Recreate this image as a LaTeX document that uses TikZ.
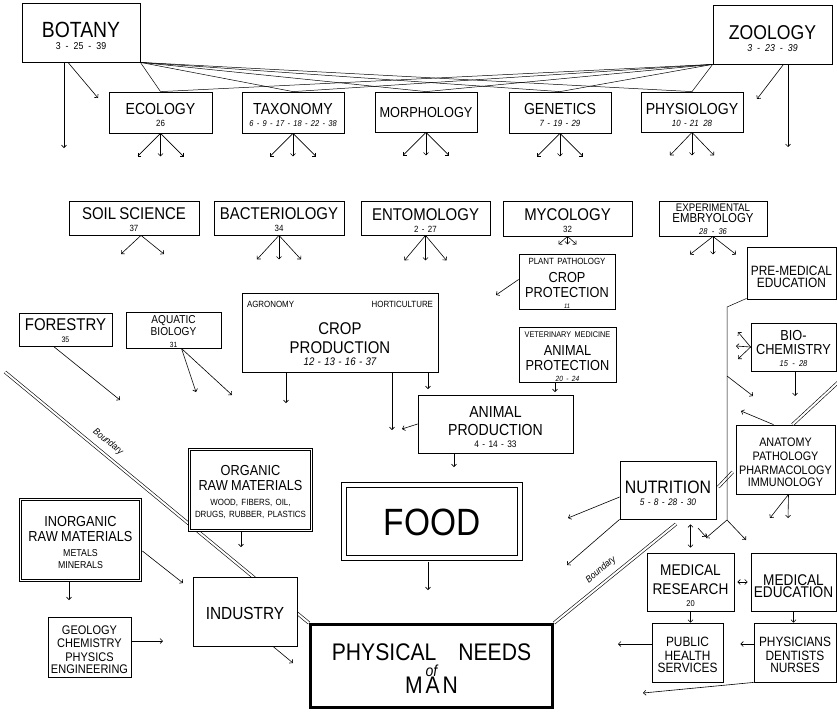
\documentclass[tikz,border=0pt]{standalone}
\usepackage{fontspec}
\setmainfont{Liberation Sans}[FakeStretch=0.88]
\usetikzlibrary{arrows.meta}
\usetikzlibrary{backgrounds}
\setlength{\parindent}{0pt}
\newcommand{\sz}[2]{\par\fontsize{#1}{#2}\selectfont}

\begin{document}
\begin{tikzpicture}[x = 1pt, y = -1pt,
        >={Straight Barb[length=2.5pt, width=5pt]},
        box/.style = {draw, line width = 0.8pt, fill = white, align = center, inner xsep = 0pt, inner ysep = 1pt},
        wh/.style 2 args = {text width = #1pt, minimum height = #2pt},
        dbox/.style = {box, double, double distance = 1.5pt},
        foodbox/.style = {box, double, double distance = 3.5pt, line width = 1.1pt},
        needsbox/.style = {box, line width = 3pt},
        arr/.style = {->, line width = 0.6pt},
        link/.style = {line width = 0.5pt},
        bound/.style = {double, double distance = 2pt, line width = 0.6pt},
        bnd/.style = {font = {\fontsize{9.5}{9.5}\selectfont\itshape}, inner sep = 0pt},
    ]
    \useasboundingbox (0,0) rectangle (837,713);

    \node[box, wh = {118}{59}] (botany) at (81,32.5) {\sz{22}{23}BOTANY\sz{10}{11}3\enspace-\enspace25\enspace-\enspace39};
    \node[box, wh = {119}{59}] (zoology) at (772.5,34.5) {\sz{20}{22}ZOOLOGY\sz{10}{11}\itshape 3\enspace-\enspace23\enspace-\enspace39};
    \node[box, wh = {103}{41}] (eco) at (160.5,112.5) {\sz{16}{17}ECOLOGY\sz{9}{10}26};
    \node[box, wh = {102}{41}] (tax) at (293,112.5) {\sz{16}{17}TAXONOMY\sz{8.5}{10}\itshape 6 - 9 - 17 - 18 - 22 - 38};
    \node[box, wh = {102}{40}] (mor) at (426,112) {\sz{14.5}{16}MORPHOLOGY};
    \node[box, wh = {102}{41}] (gen) at (560,112.5) {\sz{16}{17}GENETICS\sz{9}{10}\itshape 7 - 19 - 29};
    \node[box, wh = {102}{40}] (phy) at (692,112) {\sz{16}{17}PHYSIOLOGY\sz{9}{10}\itshape 10 - 21\enspace 28};

    \node[box, wh = {130}{34}] (soil) at (134,218) {\sz{17}{16}SOIL SCIENCE\sz{9}{9}37};
    \node[box, wh = {130}{34}] (bac) at (279,218) {\sz{17}{16}BACTERIOLOGY\sz{9}{9}34};
    \node[box, wh = {129}{34}] (ento) at (425.5,218) {\sz{17}{16}ENTOMOLOGY\sz{9}{9}2 - 27};
    \node[box, wh = {129}{35}] (myc) at (567.5,218.5) {\sz{17}{16}MYCOLOGY\sz{9}{9}32};
    \node[box, wh = {108}{35}] (emb) at (713,218.5) {\sz{11}{10}EXPERIMENTAL\sz{13}{11}EMBRYOLOGY\sz{8.5}{8.5}\itshape 28\enspace-\enspace36};

    \node[box, wh = {93}{33}] (forestry) at (65.5,329.5) {\sz{17}{15}FORESTRY\sz{8}{8}35};
    \node[box, wh = {95}{33}] (aquatic) at (173.5,330.5) {\sz{11.5}{10}AQUATIC\\BIOLOGY\sz{7.5}{7}31};
    \node[box, wh = {196}{79}] (cropprod) at (340,332.5) {\sz{9}{9}\hspace*{5pt}AGRONOMY\hfill HORTICULTURE\hspace*{5pt}\par\vspace{8pt}\sz{17}{19}CROP\\PRODUCTION\sz{11}{13}\itshape 12 - 13 - 16 - 37};
    \node[box, wh = {96}{51}] (cropprot) at (567,281.5) {\sz{9}{9}PLANT PATHOLOGY\par\vspace{3pt}\sz{14.5}{15}CROP\\PROTECTION\par\vspace{-1pt}\sz{6.5}{6}\itshape 11};
    \node[box, wh = {97}{52}] (animprot) at (567.5,355) {\sz{8.3}{9}VETERINARY MEDICINE\par\vspace{3pt}\sz{14.5}{15}ANIMAL\\PROTECTION\par\vspace{-1pt}\sz{7.5}{7}\itshape 20 - 24};
    \node[box, wh = {89}{52}] (premed) at (791.5,273) {\sz{13.5}{18}PRE-MEDICAL\\EDUCATION};
    \node[box, wh = {85}{48}] (biochem) at (793.5,347) {\sz{14.5}{14}BIO-\\CHEMISTRY\sz{8.5}{8.5}\itshape 15\enspace-\enspace28};
    \node[box, wh = {155}{58}] (animprod) at (495.5,424) {\sz{16}{18}ANIMAL\\PRODUCTION\sz{9.5}{10}4 - 14 - 33};
    \node[box, wh = {99}{69}] (anatomy) at (785.5,459.5) {\sz{12.3}{14}ANATOMY\\PATHOLOGY\\PHARMACOLOGY\\IMMUNOLOGY};
    \node[box, wh = {96}{58}] (nutrition) at (668,490) {\sz{18}{19}NUTRITION\sz{9.5}{11}\itshape 5 - 8 - 28 - 30};

    \node[foodbox, wh = {176}{73}] (food) at (432,521.5) {\sz{38}{40}FOOD};
    \node[dbox, wh = {122}{81}] (organic) at (250.5,490) {\sz{14.5}{15}ORGANIC\\RAW MATERIALS\par\vspace{4pt}\sz{9}{11}WOOD, FIBERS, OIL,\\DRUGS, RUBBER, PLASTICS};
    \node[dbox, wh = {120}{81}] (inorganic) at (80.5,540) {\sz{14.5}{15}INORGANIC\\RAW MATERIALS\par\vspace{4pt}\sz{10}{11}METALS\\MINERALS};
    \node[box, wh = {83}{60}] (geology) at (89.5,647) {\sz{12.5}{13.5}GEOLOGY\\CHEMISTRY\\PHYSICS\\ENGINEERING};
    \node[box, wh = {104}{69}] (industry) at (245,611.5) {\sz{17.5}{17}INDUSTRY\par\vspace{12pt}};
    \node[needsbox, wh = {242}{83}] (needs) at (431.5,666) {\sz{24}{22}PHYSICAL\hspace{22pt}NEEDS\sz{16}{16}\itshape of\sz{24}{20}\upshape\addfontfeature{LetterSpace=12}MAN};

    \node[box, wh = {87}{58}] (medres) at (690.5,582) {\sz{15.5}{19}MEDICAL\\RESEARCH\sz{8.5}{8.5}20};
    \node[box, wh = {85}{58}] (meded) at (793.5,582) {\sz{15.5}{19}MEDICAL\\EDUCATION};
    \node[box, wh = {71}{59}] (pubhealth) at (687.5,652.5) {\sz{13.5}{14.5}PUBLIC\\HEALTH\\SERVICES};
    \node[box, wh = {82}{59}] (physicians) at (795,652.5) {\sz{13.5}{14.5}PHYSICIANS\\DENTISTS\\NURSES};

    \coordinate (bndL) at (5,372);
    \coordinate (nutC) at (676,524);
    \coordinate (edgeR) at (842,378.7);
    \begin{scope}[on background layer]
        \draw[bound] (bndL) -- (needs.north west);
    \end{scope}
    \draw[bound] (nutC) -- (needs.north east);
    \draw[bound] ([xshift=7pt]anatomy.north) -- (edgeR);
    \draw[bound] ([shift={(2,-3)}]nutrition.east) -- ([shift={(-3,12.5)}]anatomy.west);
    \node[bnd, rotate = -39.7] (lblL) at (108,442) {Boundary};
    \node[bnd, rotate = 39.6] (lblR) at (601,570) {Boundary};

    \foreach \n in {eco,tax,mor,gen,phy}{
        \path[link] (botany.south east) edge (\n.north);
        \path[link] (zoology.south west) edge (\n.north);
    }

    \coordinate (botA) at (64,148);
    \coordinate (botB) at (98,98);
    \coordinate (zooA) at (788,147);
    \coordinate (zooB) at (757,99);
    \path[arr] (botany.south -| botA) edge (botA)
               ([xshift=-13pt]botany.south) edge (botB);
    \path[arr] (zoology.south -| zooA) edge (zooA)
               ([xshift=11pt]zoology.south) edge (zooB);

    \foreach \n/\dx/\dy in {eco/23/23, tax/23/23, mor/23/23, gen/23/23, phy/22/23, bac/22/24, ento/21/25, myc/9/8, emb/23/18}{
        \coordinate (\n-l) at ([shift={(-\dx,\dy)}]\n.south);
        \coordinate (\n-m) at ([shift={(0,\dy)}]\n.south);
        \coordinate (\n-r) at ([shift={(\dx,\dy)}]\n.south);
        \path[arr] (\n.south) edge (\n-l) (\n.south) edge (\n-m) (\n.south) edge (\n-r);
    }
    \coordinate (soil-l) at (121,254);
    \coordinate (soil-r) at (164,254);
    \path[arr] ([xshift=7pt]soil.south) edge (soil-l) ([xshift=7pt]soil.south) edge (soil-r);

    \coordinate (forA) at (120,400);
    \coordinate (aqA) at (196,392);
    \coordinate (aqB) at (232,395);
    \path[arr] ([xshift=-12pt]forestry.south) edge (forA);
    \path[arr] ([xshift=8pt]aquatic.south) edge (aqA) ([xshift=8pt]aquatic.south) edge (aqB);

    \coordinate (cpA) at (286,403);
    \coordinate (cpB) at (392,430);
    \coordinate (cpC) at (428,389);
    \path[arr] (cropprod.south -| cpA) edge (cpA) (cropprod.south -| cpB) edge (cpB) (cropprod.south -| cpC) edge (cpC);
    \coordinate (crpA) at (496,295);
    \path[arr] ([yshift=2pt]cropprot.west) edge (crpA);
    \coordinate (anpA) at (555,392);
    \path[arr] (animprot.south -| anpA) edge (anpA);
    \coordinate (apA) at (402,429);
    \coordinate (apB) at (454,467);
    \path[arr] (animprod.west) edge (apA) (animprod.south -| apB) edge (apB);
    \coordinate (foodA) at (428,590);
    \path[arr] ([yshift=-3pt]food.south -| foodA) edge (foodA);

    \coordinate (orgA) at (241,547);
    \path[arr] ([yshift=-1.5pt]organic.south -| orgA) edge (orgA);
    \coordinate (inoA) at (183,583);
    \coordinate (inoB) at (69,600);
    \path[arr] ([shift={(1.5,11)}]inorganic.east) edge (inoA) ([yshift=-1.5pt]inorganic.south -| inoB) edge (inoB);
    \coordinate (geoA) at (163,641);
    \path[arr] (geology.east |- geoA) edge (geoA);
    \coordinate (indA) at (293,663);
    \path[arr] ([xshift=28pt]industry.south) edge (indA);

    \coordinate (pmA) at (727,307);
    \coordinate (pmB) at (727,376);
    \coordinate (pmC) at (727,520);
    \coordinate (bioIn) at (753,396);
    \coordinate (resIn) at (706,538);
    \coordinate (eduIn) at (746,540);
    \draw[link] ([yshift=1pt]premed.south west) -- (pmA) -- (pmC);
    \path[arr] (pmB) edge (bioIn) (pmC) edge (resIn) (pmC) edge (eduIn);

    \coordinate (bioA) at (795,396);
    \coordinate (bio-l) at (738,332);
    \coordinate (bio-m) at (736,346);
    \coordinate (bio-r) at (738,359);
    \path[arr] (biochem.south -| bioA) edge (bioA);
    \path[arr] (biochem.west) edge (bio-l) (biochem.west) edge (bio-m) (biochem.west) edge (bio-r);

    \coordinate (anaA) at (741,411);
    \coordinate (ana-l) at (770,518);
    \coordinate (ana-m) at (788,518);
    \path[arr] ([xshift=-12pt]anatomy.north) edge (anaA);
    \path[arr] ([xshift=3pt]anatomy.south) edge (ana-l) ([xshift=3pt]anatomy.south) edge (ana-m);

    \coordinate (nutA) at (568,518);
    \coordinate (nutB) at (567,565);
    \coordinate (smA) at (698,528);
    \coordinate (smB) at (706,537);
    \path[arr] ([yshift=-7pt]nutrition.west) edge (nutA) (nutrition.south west) edge (nutB);
    \path[arr, <->] ([yshift=-5pt]nutrition.south -| medres.north) edge ([yshift=5pt]medres.north);
    \path[arr] (smA) edge (smB);

    \coordinate (phA) at (618,644);
    \coordinate (phB) at (643,693);
    \path[arr, <->, shorten >=3pt, shorten <=3pt] (medres) edge (meded);
    \path[arr] (medres.south) edge (medres.south |- pubhealth.north);
    \path[arr] (meded.south) edge (meded.south |- physicians.north);
    \path[arr, shorten >=17pt] ([yshift=8.5pt]physicians.west) edge ([yshift=8.5pt]pubhealth.east);
    \path[arr] (pubhealth.west |- phA) edge (phA);
    \path[arr] (physicians.south west) edge (phB);
\end{tikzpicture}
\end{document}
